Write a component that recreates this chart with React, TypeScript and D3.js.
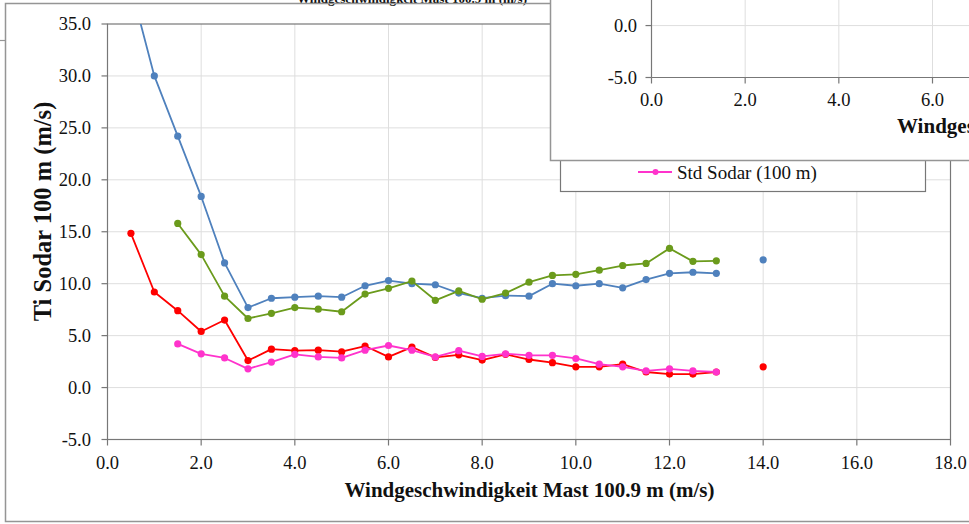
import React from "react";
import * as d3 from "d3";

// Wind speed bins (m/s) shared by all series
const windBins = [
  0.5, 1.0, 1.5, 2.0, 2.5, 3.0, 3.5, 4.0, 4.5, 5.0, 5.5, 6.0, 6.5, 7.0,
  7.5, 8.0, 8.5, 9.0, 9.5, 10.0, 10.5, 11.0, 11.5, 12.0, 12.5, 13.0, 13.5, 14.0,
];

// Series values per bin (null = no data in that bin)
const tiMast = [
  38.6, 30.0, 24.2, 18.4, 12.0, 7.7, 8.6, 8.7, 8.8, 8.7, 9.8, 10.3, 10.0, 9.9,
  9.1, 8.6, 8.85, 8.8, 10.0, 9.8, 10.0, 9.6, 10.4, 11.0, 11.1, 11.0, null, 12.3,
];
const stdMast = [
  14.85, 9.2, 7.4, 5.4, 6.5, 2.6, 3.7, 3.55, 3.6, 3.45, 4.0, 2.95, 3.9, 2.9,
  3.15, 2.65, 3.2, 2.7, 2.4, 2.0, 2.0, 2.25, 1.5, 1.3, 1.3, 1.5, null, 2.0,
];
const tiSodar = [
  null, null, 15.8, 12.8, 8.8, 6.65, 7.15, 7.7, 7.55, 7.3, 9.0, 9.55, 10.25, 8.4,
  9.3, 8.5, 9.1, 10.15, 10.8, 10.9, 11.3, 11.75, 11.95, 13.4, 12.15, 12.2, null, null,
];
const stdSodar = [
  null, null, 4.2, 3.25, 2.85, 1.8, 2.45, 3.2, 2.95, 2.85, 3.6, 4.05, 3.6, 2.95,
  3.55, 3.0, 3.25, 3.1, 3.1, 2.8, 2.25, 2.0, 1.6, 1.8, 1.6, 1.5, null, null,
];

const seriesNames = ["Ti Mast (100.9 m)", "Std Mast (100.9 m)", "Ti Sodar (100 m)", "Std Sodar (100 m)"];
const seriesColors = ["#4f81bd", "#ff0000", "#6b9b1c", "#ff33cc"];
const seriesValues = [tiMast, stdMast, tiSodar, stdSodar];

const xTicks = [0, 2, 4, 6, 8, 10, 12, 14, 16, 18];
const yTicks = [-5, 0, 5, 10, 15, 20, 25, 30, 35];
const insetXTicks = [0, 2, 4, 6];
const insetYTicks = [-5, 0];

const xTitle = "Windgeschwindigkeit Mast 100.9 m (m/s)";
const yTitle = "Ti Sodar 100 m (m/s)";

const W = 969;
const H = 524;
const FONT = "'Liberation Serif', 'Times New Roman', serif";
const AXIS = "#777777";
const GRID = "#dedede";
const FRAME = "#959595";

const fmt = (v: number) => v.toFixed(1);

export default function App() {
  const x = d3.scaleLinear().domain([0, 18]).range([107.5, 950.5]);
  const y = d3.scaleLinear().domain([-5, 35]).range([439.5, 24]);

  // Same axes drawn again in the overlapping window
  const xi = d3.scaleLinear().domain([0, 18]).range([651.5, 651.5 + 843]);
  const yi = d3.scaleLinear().domain([-5, 35]).range([77.5, 77.5 - 415.5]);

  const line = d3
    .line<number | null>()
    .defined((d) => d != null)
    .x((_, i) => x(windBins[i]))
    .y((d) => y(d as number));

  const [x0, x1] = x.range();
  const [y0, y1] = y.range();

  return (
    <svg
      width={W}
      height={H}
      viewBox={`0 0 ${W} ${H}`}
      style={{ position: "absolute", left: 0, top: 0, background: "#fff" }}
      fontFamily={FONT}
    >
      <defs>
        <clipPath id="plotClip">
          <rect x={x0} y={y1} width={x1 - x0} height={y0 - y1} />
        </clipPath>
        <clipPath id="insetClip">
          <rect x={551} y={0} width={W - 551} height={160} />
        </clipPath>
      </defs>

      {/* window behind */}
      <text x={297} y={2.5} fontSize={13} fontWeight="bold" fill="#111" textLength={230} lengthAdjust="spacingAndGlyphs">
        {xTitle}
      </text>
      <line x1={0} x2={5.5} y1={40.5} y2={40.5} stroke={FRAME} strokeWidth={1.2} />

      {/* chart frame */}
      <path d={`M550.5,3.5 H5.5 V521.5 H${W}`} fill="none" stroke={FRAME} strokeWidth={1.5} />

      {/* gridlines */}
      <g stroke={GRID} strokeWidth={1}>
        {xTicks.slice(1, -1).map((t) => (
          <line key={`gx${t}`} x1={x(t)} x2={x(t)} y1={y1} y2={y0} />
        ))}
        {yTicks.slice(1, -1).map((t) => (
          <line key={`gy${t}`} x1={x0} x2={x1} y1={y(t)} y2={y(t)} />
        ))}
      </g>

      {/* plot border, axes and ticks */}
      <rect x={x0} y={y1} width={x1 - x0} height={y0 - y1} fill="none" stroke={AXIS} strokeWidth={1.2} />
      <g stroke={AXIS} strokeWidth={1.2}>
        {yTicks.map((t) => (
          <line key={`ty${t}`} x1={x0 - 6} x2={x0} y1={y(t)} y2={y(t)} />
        ))}
        {xTicks.map((t) => (
          <line key={`tx${t}`} x1={x(t)} x2={x(t)} y1={y0} y2={y0 + 6} />
        ))}
      </g>

      {/* tick labels */}
      <g fontSize={18.5} fill="#111">
        {yTicks.map((t) => (
          <text key={`ly${t}`} x={91} y={y(t) + 6} textAnchor="end">
            {fmt(t)}
          </text>
        ))}
        {xTicks.map((t) => (
          <text key={`lx${t}`} x={x(t)} y={469} textAnchor="middle">
            {fmt(t)}
          </text>
        ))}
      </g>

      {/* axis titles */}
      <text x={529.5} y={497} textAnchor="middle" fontSize={21} fontWeight="bold" fill="#111">
        {xTitle}
      </text>
      <text
        transform="translate(51,211.5) rotate(-90)"
        textAnchor="middle"
        fontSize={24.5}
        fontWeight="bold"
        fill="#111"
      >
        {yTitle}
      </text>

      {/* series */}
      <g clipPath="url(#plotClip)">
        {seriesValues.map((vals, s) => (
          <g key={seriesNames[s]}>
            <path d={line(vals) || ""} fill="none" stroke={seriesColors[s]} strokeWidth={1.8} strokeLinejoin="round" />
            {vals.map((v, i) =>
              v == null ? null : (
                <circle key={i} cx={x(windBins[i])} cy={y(v)} r={3.6} fill={seriesColors[s]} />
              )
            )}
          </g>
        ))}
      </g>

      {/* legend */}
      <rect x={560.5} y={100.5} width={365} height={91} fill="#fff" stroke={AXIS} strokeWidth={1.2} />
      <line x1={638} x2={672} y1={172} y2={172} stroke={seriesColors[3]} strokeWidth={1.8} />
      <circle cx={655.5} cy={172} r={3} fill={seriesColors[3]} />
      <text x={677} y={178.5} fontSize={19} fill="#111">
        {seriesNames[3]}
      </text>

      {/* overlapping chart window */}
      <rect x={550.5} y={-5} width={W} height={165.5} fill="#fff" stroke={FRAME} strokeWidth={1.5} />
      <g clipPath="url(#insetClip)">
        <g stroke={GRID} strokeWidth={1}>
          {insetXTicks.slice(1).map((t) => (
            <line key={`igx${t}`} x1={xi(t)} x2={xi(t)} y1={0} y2={yi(-5)} />
          ))}
          <line x1={xi(0)} x2={W} y1={yi(0)} y2={yi(0)} />
        </g>
        <g stroke={AXIS} strokeWidth={1.2}>
          <line x1={xi(0)} x2={xi(0)} y1={0} y2={yi(-5)} />
          <line x1={xi(0)} x2={W} y1={yi(-5)} y2={yi(-5)} />
          {insetYTicks.map((t) => (
            <line key={`ity${t}`} x1={xi(0) - 6} x2={xi(0)} y1={yi(t)} y2={yi(t)} />
          ))}
          {insetXTicks.map((t) => (
            <line key={`itx${t}`} x1={xi(t)} x2={xi(t)} y1={yi(-5)} y2={yi(-5) + 6} />
          ))}
        </g>
        <g fontSize={18.5} fill="#111">
          {insetYTicks.map((t) => (
            <text key={`ily${t}`} x={637} y={yi(t) + 6} textAnchor="end">
              {fmt(t)}
            </text>
          ))}
          {insetXTicks.map((t) => (
            <text key={`ilx${t}`} x={xi(t)} y={106} textAnchor="middle">
              {fmt(t)}
            </text>
          ))}
        </g>
        <text x={897} y={133} fontSize={21} fontWeight="bold" fill="#111">
          {xTitle}
        </text>
      </g>
    </svg>
  );
}
